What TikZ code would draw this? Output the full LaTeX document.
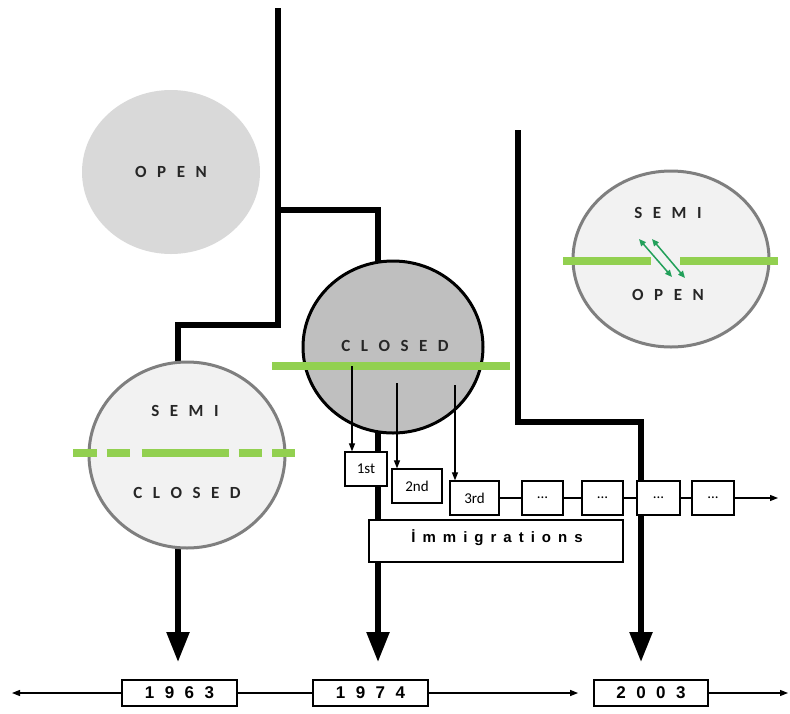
\documentclass[tikz,border=0pt]{standalone}
\usepackage{fontspec}
\setmainfont{Carlito}
\newfontfamily\arl{Liberation Sans}
\usetikzlibrary{arrows.meta,shapes.geometric}
\definecolor{lgreen}{HTML}{92D050}
\definecolor{dgreen}{HTML}{22A05A}
\definecolor{opengray}{HTML}{D9D9D9}
\definecolor{closedgray}{HTML}{BFBFBF}
\definecolor{semigray}{HTML}{F2F2F2}
\definecolor{rimgray}{HTML}{7F7F7F}
\pgfdeclarelayer{background}
\pgfsetlayers{background,main}
\newcommand\gpa{\kern 10.5pt}
\newcommand\gpb{\kern 7pt}
\tikzset{
  thk/.style={line width=5.5pt, black},
  bigtip/.style={-{Triangle[length=30pt,width=22pt]}},
  circlbl/.style={font=\bfseries\fontsize{17pt}{20pt}\selectfont, text=black!85, inner sep=0pt},
  ybox/.style={draw, line width=1.8pt, fill=white, minimum width=115pt, minimum height=26pt, inner sep=0pt, font=\arl\bfseries\fontsize{17pt}{20pt}\selectfont},
  sbox/.style={draw, line width=1.3pt, fill=white, minimum height=34pt, inner sep=0pt, font=\fontsize{15pt}{17pt}\selectfont},
  thinln/.style={line width=1.2pt},
  smallarrow/.style={-{Triangle[length=8pt,width=6pt]}},
  gbar/.style={lgreen, line width=7.5pt},
  garrow/.style={dgreen, line width=1.5pt, {Triangle[length=7pt,width=6pt]}-{Triangle[length=7pt,width=6pt]}}
}
\begin{document}
\begin{tikzpicture}[x=1pt,y=-1pt]
\useasboundingbox (0,0) rectangle (790,713);

% circles
\node[ellipse, fill=opengray, minimum width=178pt, minimum height=164pt, inner sep=0pt,
      font=\bfseries\fontsize{17pt}{20pt}\selectfont, text=black!85] (open) at (171,172) {O\gpa P\gpa E\gpa N};
\node[ellipse, fill=closedgray, draw=black, line width=3pt, minimum width=180pt, minimum height=172pt] (closed) at (393,347) {};
\node[ellipse, fill=semigray, draw=rimgray, line width=3pt, minimum width=196pt, minimum height=186pt] (semic) at (187,455) {};
\node[ellipse, fill=semigray, draw=rimgray, line width=3pt, minimum width=196pt, minimum height=176pt] (semio) at (671,259) {};

% circle labels
\node[circlbl] (closedlbl) at (395,346) {C\gpa L\gpa O\gpa S\gpa E\gpa D};
\node[circlbl] (scsemi) at (185,411) {S\gpa E\gpa M\gpa I};
\node[circlbl] (scclosed) at (187,493) {C\gpa L\gpa O\gpa S\gpa E\gpa D};
\node[circlbl] (sosemi) at (668,213) {S\gpa E\gpa M\gpa I};
\node[circlbl] (soopen) at (668,295) {O\gpa P\gpa E\gpa N};

% green bars
\draw[gbar] (272,366) -- (510,366);
\coordinate (s1) at (352,366);
\coordinate (s2) at (397,383);
\coordinate (s3) at (455,385);
\draw[gbar] (73,453) -- (96.5,453);
\draw[gbar] (106.5,453) -- (130,453);
\draw[gbar] (141.5,453) -- (228.5,453);
\draw[gbar] (238.5,453) -- (262,453);
\draw[gbar] (272,453) -- (295,453);
\draw[gbar] (563,261) -- (651,261);
\draw[gbar] (680,261) -- (778,261);
\draw[garrow] (639,239) -- (672,277);
\draw[garrow] (652,239) -- (685,278);

% generation boxes
\node[sbox, minimum width=42pt] (b1) at (366,469) {1st};
\node[sbox, minimum width=50pt] (b2) at (417,486) {2nd};
\node[sbox, minimum width=49pt] (b3) at (474.5,498) {3rd};
\node[sbox, minimum width=41pt] (d1) at (542.5,498) {...};
\node[sbox, minimum width=41pt] (d2) at (602.5,498) {...};
\node[sbox, minimum width=43pt] (d3) at (658.5,498) {...};
\node[sbox, minimum width=42pt] (d4) at (713,498) {...};
\coordinate (chainend) at (778,498);
\node[draw, line width=1.3pt, fill=white, minimum width=254pt, minimum height=42pt, inner sep=0pt] (imm) at (496,541) {};
\node[anchor=base, inner sep=0pt, font=\arl\bfseries\fontsize{15pt}{18pt}\selectfont] (immtxt) at (497,542)
  {İ\gpb m\gpb m\gpb i\gpb g\gpb r\gpb a\gpb t\gpb i\gpb o\gpb n\gpb s};

\draw[thinln, smallarrow] (s1) -- (s1 |- b1.north);
\draw[thinln, smallarrow] (s2) -- (s2 |- b2.north);
\draw[thinln, smallarrow] (s3) -- (s3 |- b3.north);
\draw[thinln] (b3) -- (d1);
\draw[thinln] (d1) -- (d2);
\draw[thinln] (d2) -- (d3);
\draw[thinln] (d3) -- (d4);
\draw[thinln, smallarrow] (d4) -- (chainend);

% timeline
\node[ybox] (y1) at (179.5,693) {1\gpa 9\gpa 6\gpa 3};
\node[ybox] (y2) at (370.5,693) {1\gpa 9\gpa 7\gpa 4};
\node[ybox, minimum width=114pt] (y3) at (651,693) {2\gpa 0\gpa 0\gpa 3};
\coordinate (tl) at (12,693);
\coordinate (tr) at (788,693);
\draw[thinln, smallarrow] (y1.west) -- (tl);
\draw[thinln] (y1.east) -- (y2.west);
\draw[thinln, smallarrow, shorten >=15pt] (y2.east) -- (y3.west);
\draw[thinln, smallarrow] (y3.east) -- (tr);

% thick flow lines
\coordinate (a0) at (278,8);
\coordinate (a1) at (278,210);
\coordinate (a2) at (278,325);
\coordinate (a3) at (178,325);
\coordinate (a4) at (378,210);
\coordinate (e1) at (178,662);
\coordinate (e2) at (378,662);
\coordinate (c0) at (518,130);
\coordinate (c1) at (518,422);
\coordinate (c2) at (641,422);
\coordinate (e3) at (641,662);
\begin{pgfonlayer}{background}
\draw[thk] (a0) -- (a2) -- (a3) -- (a3 |- semic.center);
\draw[thk] (a1) -- (a4) -- (a4 |- closed.center);
\draw[thk, bigtip] (a3 |- semic.center) -- (e1);
\draw[thk, bigtip] (a4 |- closed.center) -- (e2);
\draw[thk, bigtip] (c0) -- (c1) -- (c2) -- (e3);
\end{pgfonlayer}
\end{tikzpicture}
\end{document}
